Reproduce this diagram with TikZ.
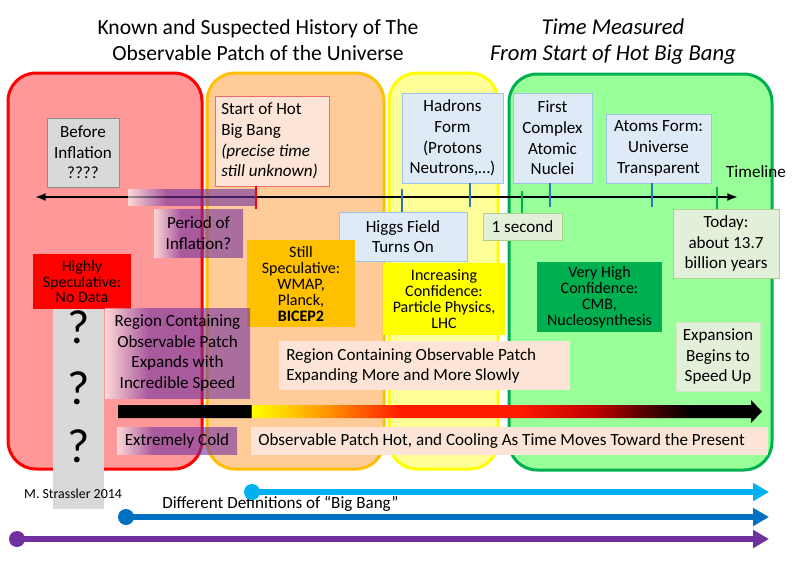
\documentclass[tikz,border=0pt]{standalone}
\usepackage{fontspec}
\setmainfont{Carlito}
\usetikzlibrary{arrows.meta}
\definecolor{redfill}{HTML}{FF9999}
\definecolor{redline}{HTML}{FF0000}
\definecolor{orfill}{HTML}{FFCC99}
\definecolor{orline}{HTML}{FFC000}
\definecolor{yefill}{HTML}{FFFF99}
\definecolor{yeline}{HTML}{FFFF00}
\definecolor{grfill}{HTML}{99FF99}
\definecolor{grline}{HTML}{00B050}
\definecolor{graybox}{HTML}{D9D9D9}
\definecolor{grayline}{HTML}{8C8C8C}
\definecolor{peach}{HTML}{FCE4D6}
\definecolor{hotline}{HTML}{F46B6B}
\definecolor{lblue}{HTML}{DEEBF7}
\definecolor{lblueline}{HTML}{9DC3E6}
\definecolor{lgreen}{HTML}{E2F0D9}
\definecolor{lgreenline}{HTML}{A9D18E}
\definecolor{purp}{HTML}{7030A0}
\definecolor{gold}{HTML}{FFC000}
\definecolor{brightyellow}{HTML}{FFFF00}
\definecolor{midgreen}{HTML}{00B050}
\definecolor{cyanb}{HTML}{00B0F0}
\definecolor{blueb}{HTML}{0070C0}
\definecolor{tickblue}{HTML}{2E75B6}
\definecolor{heatorange}{HTML}{FF9900}
\definecolor{heatred}{HTML}{FF1A00}
\definecolor{heatdark}{HTML}{C00000}
\definecolor{heatdeep}{HTML}{500000}
\pgfdeclarehorizontalshading{pfade}{100bp}{color(0bp)=(white); color(25bp)=(white); color(40bp)=(purp); color(100bp)=(purp)}
\pgfdeclarehorizontalshading{heatbar}{100bp}{color(0bp)=(black); color(35.3bp)=(black); color(35.4bp)=(brightyellow); color(41bp)=(heatorange); color(47bp)=(heatred); color(56bp)=(heatred); color(62bp)=(heatdark); color(66bp)=(heatdeep); color(69.5bp)=(black); color(100bp)=(black)}
\newcommand\bodyfont{\fontsize{12.8}{15.5}\selectfont}
\newcommand\tightfont{\fontsize{12}{12}\selectfont}
\begin{document}
\begin{tikzpicture}[x=0.75pt,y=-0.75pt,
  spanbox/.style args={#1,#2,#3,#4}{minimum width={(#3-#1)*0.75pt}, minimum height={(#4-#2)*0.75pt}, at={({(#1+#3)/2},{(#2+#4)/2})}},
  bigbox/.style={rectangle, rounded corners=21pt, line width=2.25pt, inner sep=0pt},
  tb/.style={rectangle, inner sep=0pt, align=center, font=\bodyfont},
  sb/.style={rectangle, inner sep=0pt, align=center, font=\tightfont},
  fadebox/.style={rectangle, inner sep=0pt, align=center, font=\bodyfont, shade, shading=pfade, fill opacity=0.6, text opacity=1},
  tick/.style={line width=1.9pt},
  bigarrow/.style={line width=4.5pt, -{Triangle[length=12pt, width=13pt]}},
  dot/.style={circle, inner sep=0pt, minimum size=12pt}
]
\useasboundingbox (0,0) rectangle (800,561);

% zones
\node[bigbox, spanbox={8,73,202,469}, fill=redfill, draw=redline] (redzone) {};
\node[bigbox, spanbox={207,73,384,469}, fill=orfill, draw=orline] (orzone) {};
\node[bigbox, spanbox={389,73,498,469}, fill=yefill, draw=yeline] (yezone) {};
\node[bigbox, spanbox={509,74,772,470}, fill=grfill, draw=grline] (grzone) {};

% titles
\node[align=center, font=\fontsize{16.2}{19}\selectfont] (title) at (258,40) {Known and Suspected History of The\\Observable Patch of the Universe};
\node[align=center, font=\fontsize{17}{19.5}\selectfont\itshape] (timetitle) at (613,42) {Time Measured\\From Start of Hot Big Bang};

% upper boxes
\node[tb, spanbox={47,118,119,187}, fill=graybox, draw=grayline, line width=0.6pt] (before) {Before\\Inflation\\????};
\node[tb, spanbox={215,96,329,186}, fill=peach, draw=hotline, line width=0.6pt] (sthot) {};
\node[anchor=west, align=left, inner sep=0pt, font=\bodyfont] (sthottext) at (221,141) {Start of Hot\\Big Bang\\\textit{(precise time}\\\textit{still unknown)}};
\node[tb, spanbox={402,93,503,183}, fill=lblue, draw=lblueline, line width=0.6pt] (hadrons) {Hadrons\\Form\\(Protons\\Neutrons,…)};
\node[tb, spanbox={513,93,592,183}, fill=lblue, draw=lblueline, line width=0.6pt] (nuclei) {First\\Complex\\Atomic\\Nuclei};
\node[tb, spanbox={606,114,711,183}, fill=lblue, draw=lblueline, line width=0.6pt] (atoms) {Atoms Form:\\Universe\\Transparent};
\node[font=\bodyfont, inner sep=0pt] (tllabel) at (756,172) {Timeline};

% timeline
\coordinate (tlL) at (35,197);
\coordinate (tlR) at (738,197);
\draw[line width=1.5pt, {Latex[length=8pt,width=6pt]}-{Latex[length=8pt,width=6pt]}] (tlL) -- (tlR);
\draw[tick, redline] (256,186) -- (256,209);
\draw[tick, tickblue] (402,189) -- (402,212);
\draw[tick, tickblue] (470,183) -- (470,207);
\draw[tick, midgreen] (522,191) -- (522,213);
\draw[tick, tickblue] (550,183) -- (550,207);
\draw[tick, tickblue] (652,183) -- (652,207);
\draw[tick, midgreen] (717,187) -- (717,210);
\node[fadebox, spanbox={128,189,256,205}] (inflbar) {};

% middle boxes
\node[fadebox, spanbox={154,209,243,257}] (inflation) {Period of\\Inflation?};
\node[tb, spanbox={339,212,467,261}, fill=lblue, draw=lblueline, line width=0.6pt] (higgs) {Higgs Field\\Turns On};
\node[tb, spanbox={483,213,562,240}, fill=lgreen, draw=lgreenline, line width=0.6pt] (onesec) {1 second};
\node[tb, spanbox={673,209,779,278}, fill=lgreen, draw=lgreenline, line width=0.6pt] (today) {Today:\\about 13.7\\billion years};

\node[rectangle, inner sep=0pt, spanbox={53,309,104,509}, fill=graybox] (graycol) {};
\node[sb, spanbox={33,254,131,309}, fill=red, font=\fontsize{12}{11.5}\selectfont] (highly) {Highly\\Speculative:\\No Data};
\node[inner sep=0pt, font=\fontsize{36}{36}\selectfont] (q1) at (79,327) {?};
\node[inner sep=0pt, font=\fontsize{36}{36}\selectfont] (q2) at (79,388) {?};
\node[inner sep=0pt, font=\fontsize{36}{36}\selectfont] (q3) at (79,446) {?};

\node[sb, spanbox={247,240,355,327}, fill=gold] (still) {Still\\Speculative:\\WMAP,\\Planck,\\\textbf{BICEP2}};
\node[sb, spanbox={383,263,505,335}, fill=brightyellow] (incr) {Increasing\\Confidence:\\Particle Physics,\\LHC};
\node[sb, spanbox={537,262,662,332}, fill=midgreen] (vhigh) {Very High\\Confidence:\\CMB,\\Nucleosynthesis};

\node[fadebox, spanbox={105,308,250,398}] (rapid) {Region Containing\\Observable Patch\\Expands with\\Incredible Speed};
\node[tb, spanbox={279,341,570,390}, fill=peach] (slow) {};
\node[anchor=west, align=left, inner sep=0pt, font=\bodyfont] (slowtext) at (286,366) {Region Containing Observable Patch\\Expanding More and More Slowly};
\node[tb, spanbox={676,322,760,391}, fill=lgreen, draw=lgreen!70!lgreenline, line width=0.4pt] (speedup) {Expansion\\Begins to\\Speed Up};

% temperature arrow
\shade[shading=heatbar] (118,405) -- (751,405) -- (751,400) -- (762,411.5) -- (751,423) -- (751,418) -- (118,418) -- cycle;

\node[fadebox, spanbox={117,427,237,454}] (cold) {Extremely Cold};
\node[tb, spanbox={251,427,768,455}, fill=peach] (hot) {};
\node[anchor=west, inner sep=0pt, font=\bodyfont] (hottext) at (258,441) {Observable Patch Hot, and Cooling As Time Moves Toward the Present};

% credits and definitions
\node[inner sep=0pt, font=\fontsize{10.4}{11}\selectfont] (credit) at (73,494) {M. Strassler 2014};
\node[anchor=west, inner sep=0pt, font=\bodyfont] (defs) at (162,504) {Different Definitions of “Big Bang”};

\node[dot, fill=cyanb] (cyanstart) at (252,492) {};
\coordinate (cyanend) at (769,492);
\draw[bigarrow, cyanb] (cyanstart.center) -- (cyanend);
\node[dot, fill=blueb] (bluestart) at (126,517) {};
\coordinate (blueend) at (769,517);
\draw[bigarrow, blueb] (bluestart.center) -- (blueend);
\node[dot, fill=purp] (purpstart) at (17,539) {};
\coordinate (purpend) at (769,539);
\draw[bigarrow, purp] (purpstart.center) -- (purpend);
\end{tikzpicture}
\end{document}
